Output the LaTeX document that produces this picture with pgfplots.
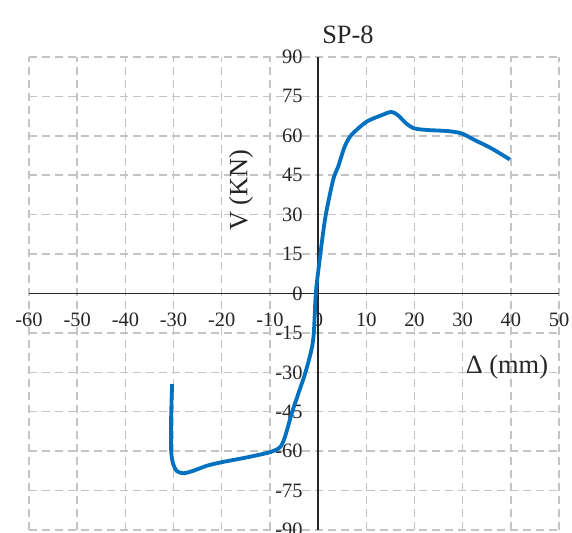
\documentclass[border=0pt]{standalone}
\usepackage{pgfplots}
\pgfplotsset{compat=1.18}
\usepackage{fontspec}
\setmainfont{Liberation Serif}
\definecolor{exblue}{HTML}{0070C0}
\definecolor{gridgray}{HTML}{C4C4C4}
\definecolor{txt}{HTML}{262626}
\begin{document}
\begin{tikzpicture}
\begin{axis}[
  scale only axis, width=530bp, height=473bp,
  xmin=-60, xmax=50, ymin=-90, ymax=90,
  axis lines=middle, axis line style={black!85, line width=1.6bp, -},
  xtick={-60,-50,...,50},
  xticklabels={-60,-50,-40,-30,-20,-10,0,10,20,30,40,50},
  ytick={-90,-75,...,90},
  yticklabels={-90,-75,-60,-45,-30,-15,0,15,30,45,60,75,90},
  hide obscured x ticks=false, hide obscured y ticks=false,
  major tick length=0pt,
  grid=major,
  major grid style={gridgray, line width=1.5bp, dash pattern=on 8bp off 5bp},
  ticklabel style={font=\fontsize{20.5}{24}\selectfont, text=txt},
  xticklabel style={anchor=north, yshift=-16bp},
  yticklabel style={anchor=east, xshift=-12bp},
  clip=false,
]
\addplot[exblue, line width=3.8bp, smooth, tension=0.45] coordinates {
(-30.3,-34.5) (-30.5,-47) (-30.5,-59.7) (-30.1,-64.8) (-29.3,-67.6) (-27.9,-68.4)
(-25.8,-67.4) (-23,-65.5) (-20,-64.2) (-14.6,-62.3) (-10,-60.4) (-7.9,-58.5)
(-6.9,-54.7) (-5.5,-45.8) (-4.1,-38.1) (-2.7,-30.5) (-1.4,-21.6) (-0.9,-15.3)
(-0.56,-2.5) (-0.2,5) (1.4,27.8) (3.1,43.1) (4.15,48.2) (5.5,55.8) (6.9,60.3)
(10,65.3) (13.1,67.8) (15.2,69.1) (16.6,67.8) (18.3,64.7) (20,62.8) (22.8,62.2)
(27,61.8) (29.8,60.9) (32.5,58.4) (36,55.2) (39.8,51.0)
};
\node[font=\fontsize{26.5}{30}\selectfont, text=txt, anchor=base] at (axis cs:6.2,95.3) {SP-8};
\node[font=\fontsize{26.5}{30}\selectfont, text=txt, rotate=90] at (axis cs:-16.0,39.3) {V (KN)};
\node[font=\fontsize{26.5}{30}\selectfont, text=txt] at (axis cs:39.2,-28.0) {Δ (mm)};
\end{axis}
\pgfresetboundingbox
\path (-29bp,-3bp) rectangle (543bp,530bp);
\end{tikzpicture}
\end{document}
